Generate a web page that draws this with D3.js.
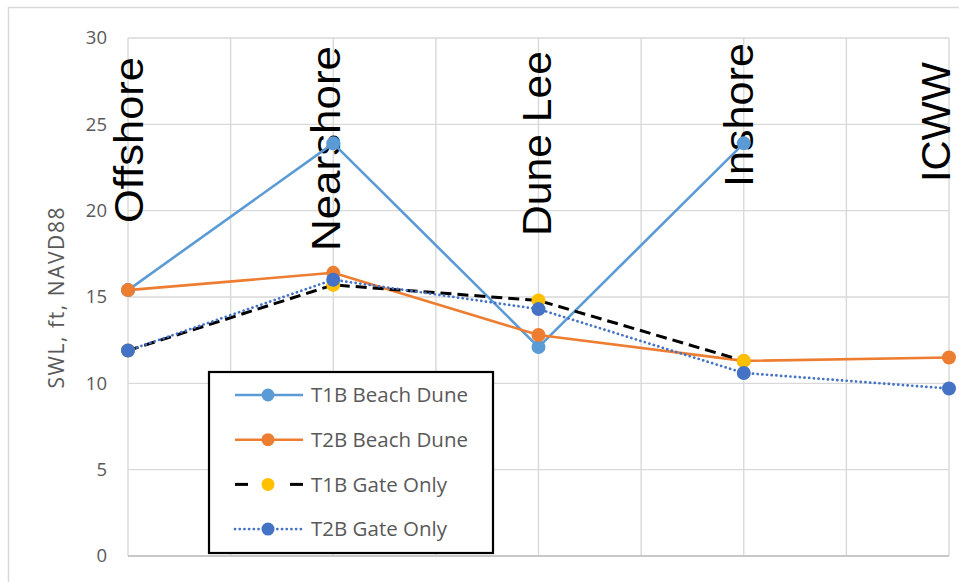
<!DOCTYPE html>
<html>
<head>
<meta charset="utf-8">
<script src="https://cdn.jsdelivr.net/npm/d3@7"></script>
<style>
  html, body { margin: 0; padding: 0; background: #ffffff; }
  svg { display: block; }
</style>
</head>
<body>
<svg id="chart" width="959" height="582"></svg>
<script>
// ---------- data ----------
const categories = ["Offshore", "Nearshore", "Dune Lee", "Inshore", "ICWW"];
const t1bBeachDune = [15.4, 23.9, 12.1, 23.9, null];
const t2bBeachDune = [15.4, 16.4, 12.8, 11.3, 11.5];
const t1bGateOnly  = [11.9, 15.7, 14.8, 11.3, null];
const t2bGateOnly  = [11.9, 16.0, 14.3, 10.6, 9.7];
const yTicks = [0, 5, 10, 15, 20, 25, 30];
const seriesNames = ["T1B Beach Dune", "T2B Beach Dune", "T1B Gate Only", "T2B Gate Only"];
const yTitle = "SWL, ft, NAVD88";

// ---------- layout / styles ----------
const W = 959, H = 582;
const plot = { left: 128, right: 949, top: 38, bottom: 556 };
// manual placement of the big rotated category text boxes (dx from category, y of text start)
const labelLayout = [
  { dx: 15, y: 223, len: 166 },
  { dx: 7,  y: 251, len: 205 },
  { dx: 12, y: 236, len: 185 },
  { dx: 9,  y: 187, len: 144 },
  { dx: 1,  y: 182, len: 120 }
];
const styles = [
  { line: "#5B9BD5", marker: "#5B9BD5", width: 2.6, dash: null },
  { line: "#ED7D31", marker: "#ED7D31", width: 2.6, dash: null },
  { line: "#000000", marker: "#FFC000", width: 3, dash: "11,6" },
  { line: "#4472C4", marker: "#4472C4", width: 2.7, dash: "0.1,4.6" }
];
const seriesData = [t1bBeachDune, t2bBeachDune, t1bGateOnly, t2bGateOnly];

const svg = d3.select("#chart");

// outer chart border
svg.append("rect")
  .attr("x", 8.5).attr("y", 7.5).attr("width", 970).attr("height", 600)
  .attr("fill", "#ffffff").attr("stroke", "#d9d9d9").attr("stroke-width", 1.5);

const x = d3.scaleLinear().domain([0, 8]).range([plot.left, plot.right]);
const y = d3.scaleLinear().domain([0, 30]).range([plot.bottom, plot.top]);
const catX = i => x(i * 2);

// gridlines
const grid = svg.append("g");
grid.selectAll("line.h").data(yTicks).enter().append("line")
  .attr("x1", plot.left).attr("x2", plot.right)
  .attr("y1", d => y(d)).attr("y2", d => y(d))
  .attr("stroke", "#d9d9d9").attr("stroke-width", 1.4);
grid.selectAll("line.v").data(d3.range(0, 9)).enter().append("line")
  .attr("x1", d => x(d)).attr("x2", d => x(d))
  .attr("y1", plot.top).attr("y2", plot.bottom)
  .attr("stroke", "#d9d9d9").attr("stroke-width", 1.4);
// bottom axis line
svg.append("line")
  .attr("x1", plot.left).attr("x2", plot.right)
  .attr("y1", y(0)).attr("y2", y(0))
  .attr("stroke", "#bfbfbf").attr("stroke-width", 1.5);

// y axis
const yAxis = svg.append("g")
  .attr("transform", `translate(${plot.left},0)`)
  .call(d3.axisLeft(y).tickValues(yTicks).tickSize(0).tickPadding(21));
yAxis.select(".domain").remove();
yAxis.selectAll("text")
  .attr("fill", "#595959")
  .style("font-family", "'Open Sans', sans-serif")
  .style("font-size", "18.5px");

// y title
svg.append("text")
  .attr("transform", `translate(64,298) rotate(-90)`)
  .attr("text-anchor", "middle")
  .attr("fill", "#595959")
  .style("font-family", "'Open Sans', sans-serif")
  .style("font-size", "21px")
  .attr("textLength", 181).attr("lengthAdjust", "spacing")
  .text(yTitle);

// category labels (big rotated text)
svg.append("g").selectAll("text").data(categories).enter().append("text")
  .attr("transform", (d, i) => `translate(${catX(i) + labelLayout[i].dx},${labelLayout[i].y}) rotate(-90)`)
  .attr("text-anchor", "start")
  .attr("fill", "#000000")
  .style("font-family", "'Liberation Sans', Arial, sans-serif")
  .style("font-size", "41px")
  .attr("textLength", (d, i) => labelLayout[i].len).attr("lengthAdjust", "spacingAndGlyphs")
  .text(d => d);

// series
const line = d3.line()
  .defined(d => d != null)
  .x((d, i) => catX(i))
  .y(d => y(d));

seriesData.forEach((vals, si) => {
  const st = styles[si];
  const g = svg.append("g");
  g.append("path")
    .attr("d", line(vals))
    .attr("fill", "none")
    .attr("stroke", st.line)
    .attr("stroke-width", st.width)
    .attr("stroke-dasharray", st.dash)
    .attr("stroke-linecap", si === 3 ? "round" : "butt")
    .attr("stroke-linejoin", "round");
  g.selectAll("circle").data(vals.map((v, i) => ({ v, i })).filter(d => d.v != null))
    .enter().append("circle")
    .attr("cx", d => catX(d.i))
    .attr("cy", d => y(d.v))
    .attr("r", 7)
    .attr("fill", st.marker);
});

// legend
const legend = { x: 209, y: 372, w: 284, h: 181 };
svg.append("rect")
  .attr("x", legend.x).attr("y", legend.y).attr("width", legend.w).attr("height", legend.h)
  .attr("fill", "#ffffff").attr("stroke", "#000000").attr("stroke-width", 2.2);
const lg = svg.append("g");
const rowY = i => 395 + i * 44.7;
seriesNames.forEach((name, i) => {
  const st = styles[i];
  const yy = rowY(i);
  if (i === 2) {
    lg.append("line").attr("x1", 235).attr("x2", 248).attr("y1", yy).attr("y2", yy)
      .attr("stroke", st.line).attr("stroke-width", st.width);
    lg.append("line").attr("x1", 290).attr("x2", 303).attr("y1", yy).attr("y2", yy)
      .attr("stroke", st.line).attr("stroke-width", st.width);
  } else {
    lg.append("line").attr("x1", 235).attr("x2", 303).attr("y1", yy).attr("y2", yy)
      .attr("stroke", st.line).attr("stroke-width", st.width)
      .attr("stroke-dasharray", st.dash)
      .attr("stroke-linecap", i === 3 ? "round" : "butt");
  }
  lg.append("circle").attr("cx", 268).attr("cy", yy).attr("r", 6.5).attr("fill", st.marker);
  lg.append("text")
    .attr("x", 311).attr("y", yy)
    .attr("dy", "0.36em")
    .attr("fill", "#595959")
    .style("font-family", "'Open Sans', sans-serif")
    .style("font-size", "20.5px")
    .text(name);
});
</script>
</body>
</html>
